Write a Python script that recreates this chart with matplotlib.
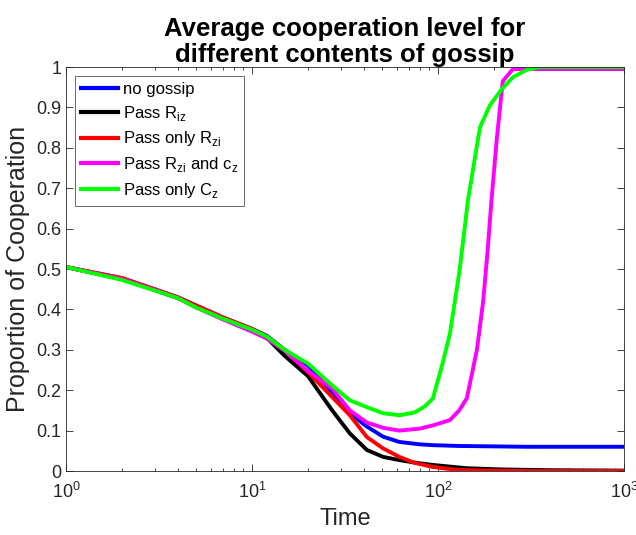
#!/usr/bin/env python3
import matplotlib
matplotlib.use("Agg")
import matplotlib.pyplot as plt
from matplotlib.ticker import FixedLocator, LogLocator, NullFormatter

plt.rcParams["font.family"] = ["Liberation Sans", "DejaVu Sans"]
plt.rcParams["mathtext.fontset"] = "custom"
plt.rcParams["mathtext.rm"] = "Liberation Sans"

# values (time, proportion of cooperation)
t_blue = [1, 2, 3, 4, 5, 7, 10, 12, 15, 20, 27, 33.6, 41.5, 50.7, 62, 80, 94, 130, 200, 300, 500, 1000]
y_blue = [0.505, 0.477, 0.45, 0.43, 0.41, 0.38, 0.352, 0.335, 0.30, 0.262, 0.195, 0.143, 0.11, 0.085,
          0.072, 0.066, 0.064, 0.062, 0.061, 0.06, 0.06, 0.06]

t_black = [1, 2, 3, 4, 5, 7, 10, 12, 15, 20, 27, 33.6, 41.5, 50.7, 62, 80, 94, 142, 215, 400, 1000]
y_black = [0.505, 0.475, 0.448, 0.428, 0.408, 0.378, 0.35, 0.33, 0.285, 0.235, 0.15, 0.093, 0.052,
           0.035, 0.027, 0.019, 0.015, 0.007, 0.004, 0.002, 0.001]

t_red = [1, 2, 3, 4, 5, 7, 10, 12, 15, 20, 27, 33.6, 41.5, 50.7, 62, 75, 94, 120, 142, 200, 300, 1000]
y_red = [0.505, 0.478, 0.45, 0.43, 0.41, 0.38, 0.352, 0.333, 0.30, 0.245, 0.183, 0.138, 0.084, 0.056,
         0.035, 0.02, 0.01, 0.004, 0.002, 0.001, 0.0, 0.0]

t_magenta = [1, 2, 3, 4, 5, 7, 10, 12, 15, 20, 27, 33.6, 41.5, 50.7, 62, 80, 94, 116, 130, 143, 162,
             175, 185, 194, 207, 223, 253, 300, 1000]
y_magenta = [0.505, 0.475, 0.448, 0.428, 0.405, 0.375, 0.345, 0.328, 0.298, 0.248, 0.204, 0.15, 0.12,
             0.107, 0.10, 0.105, 0.113, 0.126, 0.15, 0.18, 0.30, 0.42, 0.546, 0.67, 0.82, 0.965,
             0.995, 0.995, 0.995]

t_green = [1, 2, 3, 4, 5, 7, 10, 12, 15, 20, 27, 33.6, 41.5, 50.7, 62, 75, 85, 94, 105, 116, 131, 145,
           168, 190, 220, 253, 300, 350, 1000]
y_green = [0.505, 0.473, 0.447, 0.428, 0.405, 0.377, 0.35, 0.333, 0.30, 0.266, 0.212, 0.175, 0.158,
           0.143, 0.138, 0.145, 0.16, 0.18, 0.26, 0.34, 0.50, 0.67, 0.85, 0.905, 0.945, 0.975, 0.993,
           1.0, 1.0]

series = [
    (t_blue, y_blue, "#0000ff", "no gossip"),
    (t_black, y_black, "#000000", r"Pass R$_\mathregular{iz}$"),
    (t_red, y_red, "#ff0000", r"Pass only R$_\mathregular{zi}$"),
    (t_magenta, y_magenta, "#ff00ff", r"Pass R$_\mathregular{zi}$ and c$_\mathregular{z}$"),
    (t_green, y_green, "#00ff00", r"Pass only C$_\mathregular{z}$"),
]

fig = plt.figure(figsize=(6.36, 5.35), dpi=100)
ax = fig.add_axes([0.1038, 0.1196, 0.8772, 0.755])

for t, y, color, label in series:
    ax.plot(t, y, color=color, linewidth=2.8, label=label)

ax.set_xscale("log")
ax.set_xlim(1, 1000)
ax.set_ylim(0, 1)
ax.yaxis.set_major_locator(FixedLocator([i / 10 for i in range(11)]))
ax.set_yticklabels(["0"] + [f"{i / 10:.1f}" for i in range(1, 10)] + ["1"])
ax.xaxis.set_minor_locator(LogLocator(base=10, subs=range(2, 10)))
ax.xaxis.set_minor_formatter(NullFormatter())

axis_gray = "#262626"
for spine in ax.spines.values():
    spine.set_color(axis_gray)
    spine.set_linewidth(0.6)
ax.tick_params(which="both", direction="in", top=True, right=True, colors=axis_gray,
               labelsize=13, width=0.6)
ax.tick_params(which="major", length=5)
ax.tick_params(which="minor", length=2.5)
ax.tick_params(axis="x", pad=8)

ax.set_xlabel("Time", fontsize=17, color=axis_gray)
ax.set_ylabel("Proportion of Cooperation", fontsize=18, color=axis_gray)
ax.set_title("Average cooperation level for\ndifferent contents of gossip",
             fontsize=18.5, fontweight="bold", pad=4, linespacing=1.1)

leg = ax.legend(loc="upper left", fontsize=12, frameon=True, fancybox=False,
                handlelength=2.2, handletextpad=0.3, borderpad=0.35, labelspacing=0.4,
                borderaxespad=0.55)
leg.get_frame().set_edgecolor(axis_gray)
leg.get_frame().set_linewidth(0.6)
for line in leg.get_lines():
    line.set_linewidth(3)

fig.savefig("out.png", dpi=100)
